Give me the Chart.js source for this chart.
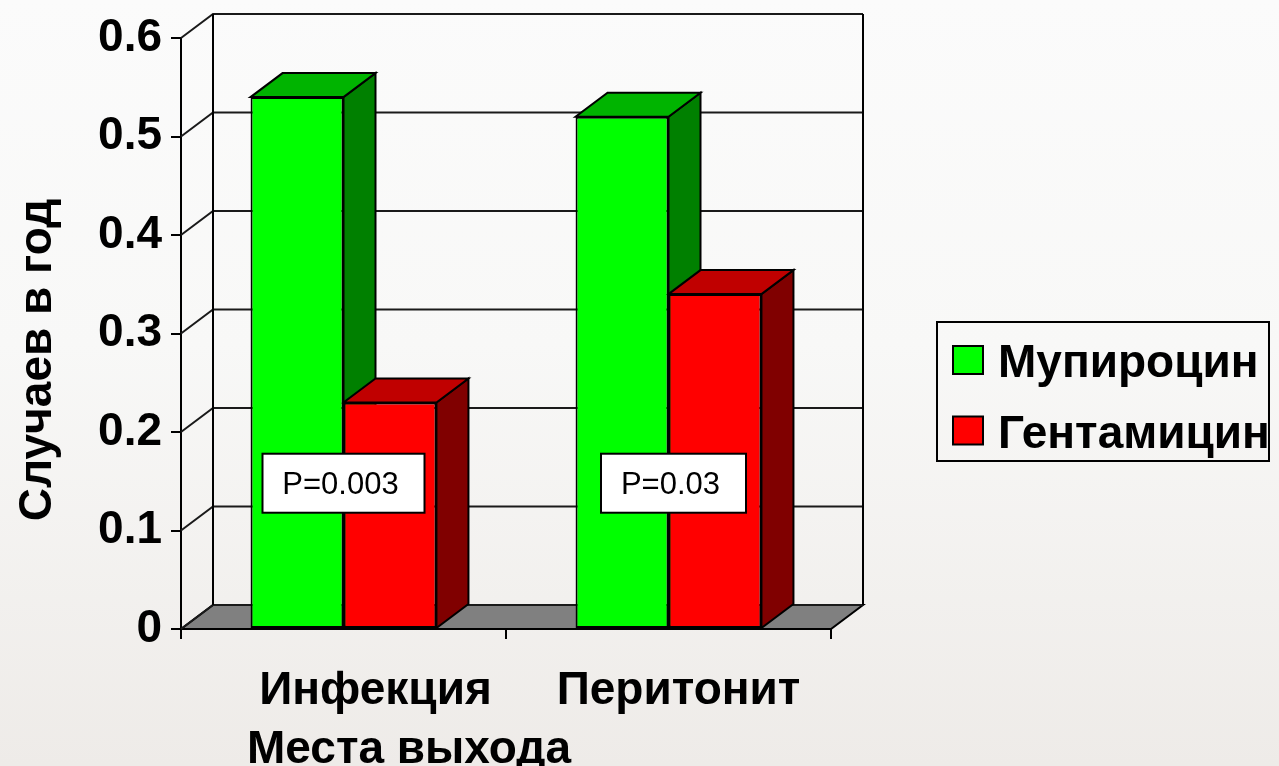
<!DOCTYPE html>
<html>
<head>
<meta charset="utf-8">
<title>Случаев в год</title>
<script src="https://cdn.jsdelivr.net/npm/chart.js@4.4.1/dist/chart.umd.min.js"></script>
<style>
    html, body { margin: 0; padding: 0; }
    body {
        width: 1279px; height: 766px; overflow: hidden;
        background: linear-gradient(to bottom, #fbfbfb 0%, #f8f8f7 45%, #eeebe8 100%);
    }
    canvas { display: block; }
</style>
</head>
<body>
<canvas id="myChart" width="1279" height="766"></canvas>
<script>
const categories = ['Инфекция', 'Перитонит'];
const seriesNames = ['Мупироцин', 'Гентамицин'];
const mupirocin = [0.54, 0.52];
const gentamicin = [0.23, 0.34];
const pValues = ['P=0.003', 'P=0.03'];
const yTickLabels = ['0', '0.1', '0.2', '0.3', '0.4', '0.5', '0.6'];
const yTitle = 'Случаев в год';
const xTitle = 'Места выхода';

const FONT = '"Liberation Sans", Arial, sans-serif';
const DX = 32, DY = -24;          // depth of the 3d box
const frontColors = ['#00ff00', '#ff0000'];
const topColors = ['#00b400', '#c00000'];
const sideColors = ['#008000', '#800000'];

function poly(ctx, pts, fill) {
    ctx.beginPath();
    ctx.moveTo(pts[0][0], pts[0][1]);
    for (let i = 1; i < pts.length; i++) ctx.lineTo(pts[i][0], pts[i][1]);
    ctx.closePath();
    if (fill) { ctx.fillStyle = fill; ctx.fill(); }
    ctx.stroke();
}

// floor, walls, and the top/side faces of the bars
const box3d = {
    id: 'box3d',
    beforeDatasetsDraw(chart) {
        const ctx = chart.ctx, a = chart.chartArea, y = chart.scales.y;
        const y0 = y.getPixelForValue(0);
        ctx.save();
        ctx.lineWidth = 2;
        ctx.strokeStyle = '#000';

        poly(ctx, [[a.left, y0], [a.right, y0], [a.right + DX, y0 + DY], [a.left + DX, y0 + DY]], '#808080');

        ctx.strokeStyle = '#1a1a1a';
        y.ticks.forEach(t => {
            const py = y.getPixelForValue(t.value);
            ctx.beginPath();
            ctx.moveTo(a.left, py);
            ctx.lineTo(a.left + DX, py + DY);
            ctx.lineTo(a.right + DX, py + DY);
            ctx.stroke();
        });
        ctx.strokeStyle = '#000';
        const top = y.getPixelForValue(y.max) + DY;
        ctx.beginPath();
        ctx.moveTo(a.left + DX, top); ctx.lineTo(a.left + DX, y0 + DY);
        ctx.moveTo(a.right + DX, top); ctx.lineTo(a.right + DX, y0 + DY);
        ctx.stroke();

        // front faces come from chart.js itself
        chart.data.datasets.forEach((ds, i) => {
            chart.getDatasetMeta(i).data.forEach(bar => {
                const l = bar.x - bar.width / 2, r = bar.x + bar.width / 2;
                poly(ctx, [[r, bar.y], [r + DX, bar.y + DY], [r + DX, bar.base + DY], [r, bar.base]], sideColors[i]);
                poly(ctx, [[l, bar.y], [r, bar.y], [r + DX, bar.y + DY], [l + DX, bar.y + DY]], topColors[i]);
            });
        });
        ctx.restore();
    }
};

// P value boxes over the bars
const pLabels = {
    id: 'pLabels',
    afterDatasetsDraw(chart) {
        const ctx = chart.ctx, x = chart.scales.x, y = chart.scales.y;
        ctx.save();
        ctx.font = '31px ' + FONT;
        ctx.textAlign = 'center';
        ctx.textBaseline = 'middle';
        ctx.lineWidth = 2;
        ctx.strokeStyle = '#000';
        pValues.forEach((txt, i) => {
            const cx = x.getPixelForValue(i) + i * 5;
            const cy = y.getPixelForValue(0.148);
            const w = Math.round(ctx.measureText(txt).width + 46), h = 59;
            ctx.fillStyle = '#fff';
            ctx.fillRect(cx - w / 2, cy - h / 2, w, h);
            ctx.strokeRect(cx - w / 2, cy - h / 2, w, h);
            ctx.fillStyle = '#000';
            ctx.fillText(txt, cx - 3, cy + 2);
        });
        ctx.restore();
    }
};

// category names, axis titles and the legend
const labelShift = [32, 10];
const texts = {
    id: 'texts',
    afterDraw(chart) {
        const ctx = chart.ctx, a = chart.chartArea, x = chart.scales.x;
        ctx.save();
        ctx.fillStyle = '#000';
        ctx.font = 'bold 46px ' + FONT;
        ctx.textBaseline = 'alphabetic';

        ctx.textAlign = 'center';
        categories.forEach((c, i) => {
            ctx.fillText(c, x.getPixelForValue(i) + labelShift[i], a.bottom + 75);
        });
        ctx.textAlign = 'left';
        ctx.fillText(xTitle, a.left + 66, a.bottom + 134);

        ctx.save();
        ctx.translate(51, 360);
        ctx.rotate(-Math.PI / 2);
        ctx.textAlign = 'center';
        ctx.fillText(yTitle, 0, 0);
        ctx.restore();

        // legend
        ctx.lineWidth = 2;
        ctx.strokeStyle = '#000';
        ctx.strokeRect(937, 322, 332, 139);
        ctx.textAlign = 'left';
        seriesNames.forEach((name, i) => {
            const cy = 360 + i * 70.5;
            ctx.fillStyle = frontColors[i];
            ctx.fillRect(953, cy - 14, 30, 28);
            ctx.strokeRect(953, cy - 14, 30, 28);
            ctx.fillStyle = '#000';
            ctx.fillText(name, 998, cy + 17);
        });
        ctx.restore();
    }
};

const config = {
    type: 'bar',
    data: {
        labels: categories,
        datasets: [
            { label: seriesNames[0], data: mupirocin, backgroundColor: frontColors[0] },
            { label: seriesNames[1], data: gentamicin, backgroundColor: frontColors[1] }
        ]
    },
    options: {
        responsive: false,
        animation: false,
        events: [],
        layout: { padding: { top: 38, right: 448, left: 0, bottom: 0 } },
        datasets: {
            bar: {
                categoryPercentage: 0.572,
                barPercentage: 1,
                borderColor: '#000',
                borderWidth: 2,
                borderSkipped: false
            }
        },
        plugins: {
            legend: { display: false },
            tooltip: { enabled: false }
        },
        scales: {
            x: {
                grid: { offset: true, drawOnChartArea: false, drawTicks: true, tickLength: 10, color: '#000', lineWidth: 2 },
                border: { display: true, color: '#000', width: 2 },
                ticks: { display: false },
                afterFit: s => { s.height = 137; }
            },
            y: {
                min: 0,
                max: 0.6,
                ticks: {
                    stepSize: 0.1,
                    padding: 9,
                    color: '#000',
                    font: { family: FONT, size: 46, weight: 'bold' },
                    callback: (v, i) => yTickLabels[i]
                },
                grid: { drawOnChartArea: false, drawTicks: true, tickLength: 10, color: '#000', lineWidth: 2 },
                border: { display: true, color: '#000', width: 2 },
                afterFit: s => { s.width = 181; }
            }
        }
    },
    plugins: [box3d, pLabels, texts]
};

const ctx = document.getElementById('myChart').getContext('2d');
const myChart = new Chart(ctx, config);
</script>
</body>
</html>
